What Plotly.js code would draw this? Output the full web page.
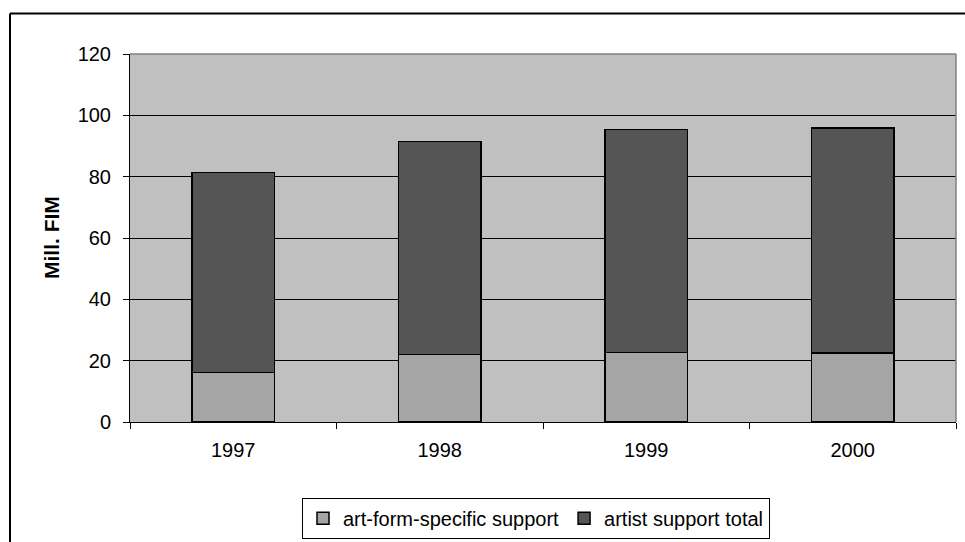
<!DOCTYPE html>
<html>
<head>
<meta charset="utf-8">
<script src="https://cdn.plot.ly/plotly-3.0.1.min.js"></script>
<style>html,body{margin:0;padding:0;background:#fff;}#chart{width:965px;height:542px;}</style>
</head>
<body>
<div id="chart"></div>
<script>
var years = ['1997', '1998', '1999', '2000'];
var artFormSpecific = [16.2, 22.0, 22.6, 22.5];
var artistSupportTotal = [65.2, 69.4, 72.8, 73.4];
var yTickValues = [0, 20, 40, 60, 80, 100, 120];
var seriesNames = ['art-form-specific support', 'artist support total'];
var yTitle = 'Mill. FIM';

var L = 130, R = 956, T = 53.5, B = 421.7, W = 965, H = 542;
function px(x) { return (x - L) / (R - L); }
function py(y) { return (B - y) / (B - T); }

var font = {family: 'Liberation Sans, Arial, sans-serif', size: 20, color: '#000'};

var data = [
  {type: 'bar', x: years, y: artFormSpecific, name: seriesNames[0],
   marker: {color: '#A5A5A5', line: {color: '#000', width: 1.5}}},
  {type: 'bar', x: years, y: artistSupportTotal, name: seriesNames[1],
   marker: {color: '#555555', line: {color: '#000', width: 1.5}}}
];

var layout = {
  width: W, height: H,
  margin: {l: L, r: W - R, t: T, b: H - B, pad: 0, autoexpand: false},
  paper_bgcolor: '#fff',
  plot_bgcolor: '#C0C0C0',
  font: font,
  barmode: 'stack',
  bargap: 0.6,
  showlegend: true,
  legend: {orientation: 'h', x: px(536), xanchor: 'center', y: py(497.5), yanchor: 'top',
           bordercolor: '#000', borderwidth: 1, bgcolor: '#fff', font: font,
           itemclick: false, traceorder: 'normal', itemwidth: 30},
  xaxis: {type: 'category', tickson: 'boundaries', ticks: 'outside', ticklen: 6,
          tickcolor: '#000', showline: true, linecolor: '#000', linewidth: 1,
          showgrid: false, tickfont: font, ticklabelstandoff: 10, fixedrange: true,
          automargin: false},
  yaxis: {range: [0, 120], tickvals: yTickValues, ticks: 'outside', ticklen: 6,
          tickcolor: '#000', showline: true, linecolor: '#000', linewidth: 1,
          showgrid: true, gridcolor: '#000', gridwidth: 1, zeroline: false,
          tickfont: font, ticklabelstandoff: 8, fixedrange: true, automargin: false},
  annotations: [
    {text: '<b>' + yTitle + '</b>', xref: 'paper', yref: 'paper', x: px(51), y: 0.5,
     xanchor: 'center', yanchor: 'middle', textangle: -90, showarrow: false,
     font: {family: 'Liberation Sans, Arial, sans-serif', size: 21, color: '#000'}}
  ],
  shapes: [
    {type: 'line', xref: 'paper', yref: 'paper', x0: 0, x1: 1, y0: 1, y1: 1,
     line: {color: '#808080', width: 1.5}},
    {type: 'line', xref: 'paper', yref: 'paper', x0: 1, x1: 1, y0: 0, y1: 1,
     line: {color: '#808080', width: 1.5}},
    {type: 'line', xref: 'paper', yref: 'paper', x0: px(10), x1: px(1100), y0: py(13), y1: py(13),
     line: {color: '#000', width: 2}},
    {type: 'line', xref: 'paper', yref: 'paper', x0: px(10), x1: px(10), y0: py(13), y1: py(700),
     line: {color: '#000', width: 2}}
  ]
};

Plotly.newPlot('chart', data, layout, {displayModeBar: false, staticPlot: true});
</script>
</body>
</html>
